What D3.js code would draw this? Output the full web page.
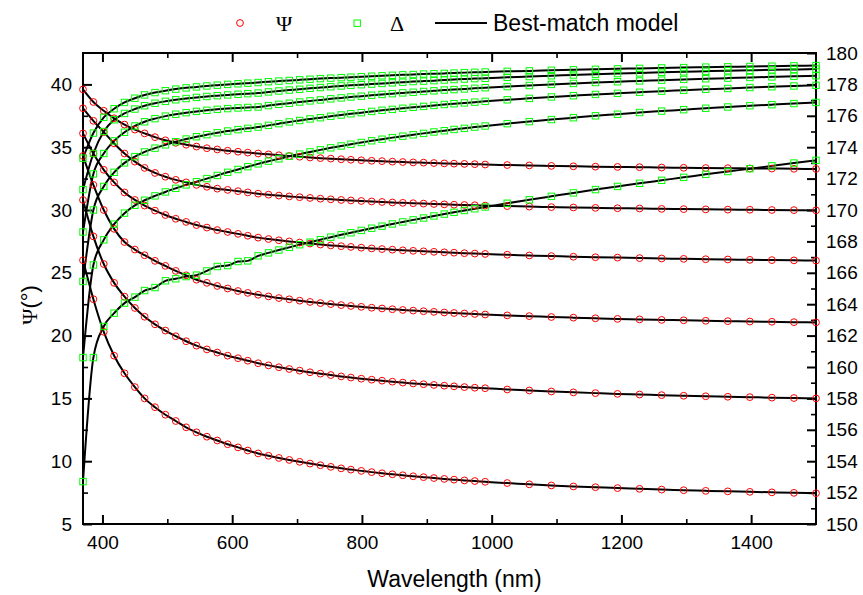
<!DOCTYPE html>
<html>
<head>
<meta charset="utf-8">
<script src="https://cdn.jsdelivr.net/npm/d3@7"></script>
<style>
    body { margin: 0; background: #fff; }
    text { font-family: "Liberation Sans", Arial, sans-serif; fill: #000; }
</style>
</head>
<body>
<div id="chart"></div>
<script>
// wavelengths of the measured points (nm)
var wavelength = [370, 386, 402, 418, 434, 450, 465, 481, 497, 513, 529, 545, 561, 577, 593, 609, 624, 640,
    656, 672, 688, 704, 720, 736, 752, 768, 783, 799, 815, 831, 847, 863, 879, 895, 911, 927, 942, 958, 974, 990,
    1024, 1058, 1092, 1126, 1160, 1194, 1228, 1262, 1296, 1330, 1364, 1398, 1432, 1466, 1500];

// Psi (deg), left axis
var psi1 = [39.6, 38.6, 37.9, 37.3, 36.8, 36.4, 36.1, 35.8, 35.55, 35.35, 35.2, 35.05, 34.92, 34.82, 34.72, 34.64, 34.57, 34.5,
    34.43, 34.36, 34.30, 34.24, 34.18, 34.13, 34.09, 34.04, 34.00, 33.96, 33.92, 33.89, 33.85, 33.82, 33.79, 33.77, 33.74, 33.71, 33.69, 33.67, 33.65, 33.62,
    33.58, 33.55, 33.51, 33.48, 33.45, 33.43, 33.41, 33.38, 33.36, 33.34, 33.33, 33.31, 33.30, 33.28, 33.27];
var psi2 = [38.1, 37.1, 36.2, 35.3, 34.5, 33.85, 33.35, 32.95, 32.65, 32.4, 32.2, 32.0, 31.85, 31.7, 31.6, 31.5, 31.4, 31.3,
    31.22, 31.15, 31.08, 31.02, 30.96, 30.90, 30.85, 30.80, 30.76, 30.72, 30.68, 30.64, 30.60, 30.57, 30.54, 30.51, 30.48, 30.45, 30.42, 30.40, 30.38, 30.35,
    30.31, 30.27, 30.23, 30.20, 30.17, 30.14, 30.12, 30.09, 30.07, 30.05, 30.03, 30.02, 30.00, 29.99, 29.97];
var psi3 = [36.1, 34.5, 33.2, 32.2, 31.4, 30.8, 30.35, 29.95, 29.6, 29.3, 29.05, 28.8, 28.6, 28.4, 28.25, 28.1, 27.95, 27.8,
    27.69, 27.59, 27.50, 27.41, 27.33, 27.25, 27.18, 27.12, 27.06, 27.00, 26.94, 26.89, 26.84, 26.79, 26.75, 26.71, 26.67, 26.63, 26.60, 26.56, 26.53, 26.50,
    26.44, 26.38, 26.33, 26.28, 26.24, 26.21, 26.17, 26.14, 26.11, 26.08, 26.06, 26.03, 26.01, 25.99, 25.97];
var psi4 = [34.3, 32.0, 30.0, 28.5, 27.45, 26.85, 26.4, 25.95, 25.55, 25.15, 24.8, 24.45, 24.2, 23.95, 23.75, 23.55, 23.4, 23.25,
    23.12, 22.99, 22.89, 22.78, 22.68, 22.59, 22.51, 22.43, 22.36, 22.29, 22.22, 22.16, 22.10, 22.04, 21.99, 21.94, 21.89, 21.84, 21.80, 21.76, 21.72, 21.68,
    21.61, 21.55, 21.48, 21.43, 21.38, 21.33, 21.29, 21.25, 21.22, 21.18, 21.15, 21.12, 21.10, 21.07, 21.05];
var psi5 = [30.8, 27.9, 25.7, 24.2, 23.1, 22.2, 21.5, 20.9, 20.4, 19.95, 19.55, 19.2, 18.9, 18.65, 18.4, 18.2, 18.0, 17.8,
    17.63, 17.48, 17.34, 17.21, 17.08, 16.97, 16.86, 16.75, 16.66, 16.57, 16.49, 16.41, 16.33, 16.26, 16.19, 16.13, 16.07, 16.01, 15.96, 15.90, 15.85, 15.81,
    15.71, 15.63, 15.55, 15.48, 15.42, 15.36, 15.31, 15.26, 15.21, 15.17, 15.13, 15.10, 15.06, 15.03, 15.0];
var psi6 = [26.0, 22.9, 20.3, 18.4, 17.0, 15.9, 15.0, 14.3, 13.7, 13.2, 12.7, 12.3, 11.95, 11.65, 11.35, 11.1, 10.85, 10.62,
    10.43, 10.26, 10.10, 9.95, 9.81, 9.68, 9.55, 9.43, 9.33, 9.23, 9.13, 9.04, 8.96, 8.88, 8.80, 8.73, 8.66, 8.59, 8.53, 8.47, 8.42, 8.36,
    8.26, 8.16, 8.07, 7.99, 7.93, 7.86, 7.80, 7.74, 7.69, 7.64, 7.60, 7.56, 7.52, 7.48, 7.45];

// Delta (deg), right axis
var delta1 = [173.3, 174.9, 175.9, 176.45, 176.85, 177.12, 177.33, 177.48, 177.6, 177.7, 177.78, 177.84, 177.9, 177.95, 178.0, 178.04, 178.08, 178.12,
    178.17, 178.21, 178.25, 178.29, 178.33, 178.37, 178.40, 178.43, 178.46, 178.49, 178.52, 178.55, 178.58, 178.61, 178.63, 178.66, 178.68, 178.70, 178.72, 178.75, 178.77, 178.79,
    178.83, 178.86, 178.90, 178.93, 178.96, 178.99, 179.02, 179.05, 179.07, 179.10, 179.12, 179.14, 179.16, 179.18, 179.2];
var delta2 = [171.3, 173.6, 175.0, 175.75, 176.15, 176.43, 176.64, 176.8, 176.92, 177.02, 177.1, 177.17, 177.23, 177.28, 177.33, 177.37, 177.41, 177.45,
    177.52, 177.58, 177.64, 177.69, 177.75, 177.80, 177.85, 177.90, 177.94, 177.98, 178.02, 178.06, 178.10, 178.14, 178.18, 178.21, 178.24, 178.28, 178.31, 178.34, 178.37, 178.39,
    178.45, 178.50, 178.55, 178.60, 178.65, 178.69, 178.73, 178.77, 178.80, 178.84, 178.87, 178.90, 178.93, 178.95, 178.98];
var delta3 = [168.6, 172.3, 173.6, 174.4, 174.95, 175.35, 175.62, 175.82, 175.98, 176.1, 176.2, 176.28, 176.35, 176.41, 176.46, 176.5, 176.53, 176.56,
    176.65, 176.73, 176.80, 176.88, 176.95, 177.01, 177.08, 177.14, 177.20, 177.25, 177.31, 177.36, 177.41, 177.46, 177.50, 177.55, 177.59, 177.64, 177.67, 177.71, 177.75, 177.79,
    177.86, 177.93, 178.00, 178.06, 178.12, 178.17, 178.22, 178.27, 178.32, 178.36, 178.40, 178.44, 178.48, 178.52, 178.55];
var delta4 = [165.45, 170.0, 171.5, 172.4, 173.0, 173.4, 173.7, 173.94, 174.15, 174.35, 174.52, 174.67, 174.8, 174.92, 175.03, 175.12, 175.2, 175.28,
    175.39, 175.50, 175.61, 175.70, 175.80, 175.88, 175.97, 176.05, 176.13, 176.20, 176.28, 176.35, 176.41, 176.48, 176.54, 176.60, 176.66, 176.72, 176.77, 176.82, 176.87, 176.92,
    177.02, 177.11, 177.20, 177.28, 177.36, 177.43, 177.50, 177.57, 177.63, 177.69, 177.74, 177.80, 177.85, 177.90, 177.94];
var delta5 = [160.6, 166.5, 168.1, 169.1, 169.8, 170.3, 170.62, 170.9, 171.15, 171.38, 171.6, 171.8, 172.0, 172.2, 172.4, 172.58, 172.76, 172.94,
    173.11, 173.26, 173.42, 173.56, 173.70, 173.83, 173.96, 174.08, 174.19, 174.30, 174.41, 174.51, 174.61, 174.70, 174.79, 174.88, 174.97, 175.05, 175.13, 175.20, 175.28, 175.35,
    175.50, 175.63, 175.76, 175.88, 176.00, 176.10, 176.21, 176.30, 176.39, 176.48, 176.56, 176.64, 176.71, 176.78, 176.85];
var delta6 = [152.7, 160.6, 162.58, 163.43, 164.07, 164.45, 164.87, 165.06, 165.49, 165.62, 165.76, 165.85, 166.12, 166.4, 166.46, 166.72, 166.76, 167.08,
    167.27, 167.45, 167.62, 167.79, 167.95, 168.11, 168.27, 168.42, 168.55, 168.70, 168.84, 168.97, 169.11, 169.24, 169.37, 169.49, 169.62, 169.74, 169.85, 169.97, 170.08, 170.19,
    170.43, 170.65, 170.87, 171.09, 171.30, 171.50, 171.70, 171.89, 172.08, 172.27, 172.45, 172.63, 172.81, 172.99, 173.16];

var psiSeries = [psi1, psi2, psi3, psi4, psi5, psi6];
var deltaSeries = [delta1, delta2, delta3, delta4, delta5, delta6];

// tick values
var waveTicks = [400, 600, 800, 1000, 1200, 1400];
var waveMinor = [500, 700, 900, 1100, 1300];
var psiTicks = [5, 10, 15, 20, 25, 30, 35, 40];
var psiMinor = [7.5, 12.5, 17.5, 22.5, 27.5, 32.5, 37.5];
var deltaTicks = [150, 152, 154, 156, 158, 160, 162, 164, 166, 168, 170, 172, 174, 176, 178, 180];
var deltaMinor = [151, 153, 155, 157, 159, 161, 163, 165, 167, 169, 171, 173, 175, 177, 179];

var svgWidth = 863;
var svgHeight = 595;

var margin = {
    top: 53,
    right: 47,
    bottom: 71,
    left: 83
};

var width = svgWidth - margin.left - margin.right;
var height = svgHeight - margin.top - margin.bottom;

var svg = d3.select("#chart")
    .append("svg")
    .attr("width", svgWidth)
    .attr("height", svgHeight);

var chartGroup = svg.append("g")
    .attr("transform", "translate(" + margin.left + "," + margin.top + ")");

//(scales)
var xScale = d3.scaleLinear().domain([370, 1500]).range([0, width]);
var yPsi = d3.scaleLinear().domain([5, 42.5]).range([height, 0]);
var yDelta = d3.scaleLinear().domain([150, 180]).range([height, 0]);

//axes - ticks point inward on all four sides
function drawAxis(axis, major, minor, transform, showLabels) {
    var g = chartGroup.append("g").attr("transform", transform);
    g.call(axis.tickValues(major).tickSize(-9).tickSizeOuter(0)
        .tickFormat(showLabels ? d3.format("d") : ""));
    g.selectAll(".tick line").attr("stroke", "#000").attr("stroke-width", 2);
    g.selectAll(".tick text").style("font-size", "19px");
    g.select(".domain").remove();

    var gm = chartGroup.append("g").attr("transform", transform);
    gm.call(axis.tickValues(minor).tickSize(-5).tickFormat(""));
    gm.selectAll(".tick line").attr("stroke", "#000").attr("stroke-width", 1.6);
    gm.select(".domain").remove();
}

drawAxis(d3.axisBottom(xScale).tickPadding(12), waveTicks, waveMinor, `translate(0, ${height})`, true);
drawAxis(d3.axisTop(xScale), waveTicks, waveMinor, "translate(0,0)", false);
drawAxis(d3.axisLeft(yPsi).tickPadding(11), psiTicks, psiMinor, "translate(0,0)", true);
drawAxis(d3.axisRight(yDelta).tickPadding(10), deltaTicks, deltaMinor, `translate(${width}, 0)`, true);

//frame
chartGroup.append("rect")
    .attr("x", 0)
    .attr("y", 0)
    .attr("width", width)
    .attr("height", height)
    .attr("fill", "none")
    .attr("stroke", "#000")
    .attr("stroke-width", 2);

//model lines
var psiLine = d3.line()
    .x((d, i) => xScale(wavelength[i]))
    .y(d => yPsi(d))
    .curve(d3.curveMonotoneX);
var deltaLine = d3.line()
    .x((d, i) => xScale(wavelength[i]))
    .y(d => yDelta(d))
    .curve(d3.curveMonotoneX);

chartGroup.selectAll(".psiLine")
    .data(psiSeries)
    .enter()
    .append("path")
    .attr("class", "psiLine")
    .attr("d", psiLine)
    .attr("fill", "none")
    .attr("stroke", "#000")
    .attr("stroke-width", 2);

chartGroup.selectAll(".deltaLine")
    .data(deltaSeries)
    .enter()
    .append("path")
    .attr("class", "deltaLine")
    .attr("d", deltaLine)
    .attr("fill", "none")
    .attr("stroke", "#000")
    .attr("stroke-width", 2);

//build circles (Psi) and squares (Delta)
psiSeries.forEach(function (series) {
    chartGroup.append("g")
        .selectAll("circle")
        .data(series)
        .enter()
        .append("circle")
        .attr("cx", (d, i) => xScale(wavelength[i]))
        .attr("cy", d => yPsi(d))
        .attr("r", 3.4)
        .attr("fill", "none")
        .attr("stroke", "#ff0000")
        .attr("stroke-width", 1);
});

deltaSeries.forEach(function (series) {
    chartGroup.append("g")
        .selectAll("rect")
        .data(series)
        .enter()
        .append("rect")
        .attr("x", (d, i) => xScale(wavelength[i]) - 3.2)
        .attr("y", d => yDelta(d) - 3.2)
        .attr("width", 6.4)
        .attr("height", 6.4)
        .attr("fill", "none")
        .attr("stroke", "#00ff00")
        .attr("stroke-width", 1);
});

//axis titles
svg.append("text")
    .attr("x", margin.left + width / 2 + 5)
    .attr("y", 587)
    .attr("text-anchor", "middle")
    .style("font-size", "23px")
    .text("Wavelength (nm)");

var yTitle = svg.append("text")
    .attr("transform", "translate(37, 305) rotate(-90)")
    .attr("text-anchor", "middle")
    .style("font-size", "22px");
yTitle.append("tspan").style("font-family", "'Liberation Serif', 'DejaVu Serif', serif").text("Ψ");
yTitle.append("tspan").text("(°)");

//legend
var legend = svg.append("g");
legend.append("circle")
    .attr("cx", 240).attr("cy", 23).attr("r", 3.4)
    .attr("fill", "none").attr("stroke", "#ff0000").attr("stroke-width", 1);
legend.append("text")
    .attr("x", 276).attr("y", 31)
    .style("font-family", "'Liberation Serif', 'DejaVu Serif', serif")
    .style("font-size", "22px")
    .text("Ψ");
legend.append("rect")
    .attr("x", 354).attr("y", 20).attr("width", 6.4).attr("height", 6.4)
    .attr("fill", "none").attr("stroke", "#00ff00").attr("stroke-width", 1);
legend.append("text")
    .attr("x", 390).attr("y", 31)
    .style("font-family", "'Liberation Serif', 'DejaVu Serif', serif")
    .style("font-size", "22px")
    .text("Δ");
legend.append("line")
    .attr("x1", 435).attr("x2", 487).attr("y1", 23).attr("y2", 23)
    .attr("stroke", "#000").attr("stroke-width", 2);
legend.append("text")
    .attr("x", 493).attr("y", 31)
    .style("font-size", "23px")
    .text("Best-match model");
</script>
</body>
</html>
